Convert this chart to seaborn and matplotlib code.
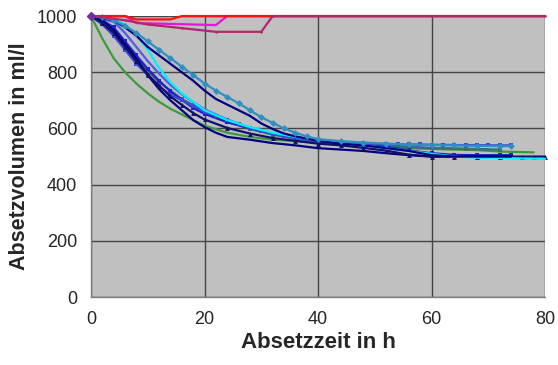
import numpy as np
import pandas as pd
import seaborn as sns
import matplotlib
matplotlib.use("Agg")
import matplotlib.pyplot as plt

# --- data (time in h, volume in ml/l) ---
t_green = [0, 2, 4, 6, 8, 10, 12, 14, 16, 18, 20, 24, 28, 32, 36, 40, 44, 48, 52, 56, 60, 64, 68, 72, 76, 78]
v_green = [1000, 920, 850, 800, 760, 725, 695, 670, 650, 630, 610, 585, 570, 560, 555, 550, 545, 540, 535, 530, 527, 525, 523, 518, 516, 515]

t_navy1 = [0, 2, 4, 6, 8, 10, 12, 14, 16, 18, 20, 22, 24, 28, 32, 36, 40, 44, 48, 52, 56, 60, 64, 68, 72, 74]
v_navy1 = [1000, 985, 950, 900, 850, 790, 740, 700, 665, 630, 605, 585, 570, 560, 548, 540, 530, 525, 520, 512, 505, 500, 500, 500, 500, 500]

t_cyan = [0, 4, 6, 8, 10, 12, 14, 16, 18, 20, 24, 28, 32, 36, 40, 44, 48, 52, 56, 60, 64, 68, 72, 76, 80]
v_cyan = [1000, 990, 970, 935, 880, 815, 765, 725, 695, 665, 630, 605, 585, 570, 558, 548, 540, 530, 520, 510, 500, 496, 495, 493, 492]

t_teal = [0, 2, 4, 6, 8, 10, 12, 14, 16, 18, 20, 22, 24, 26, 28, 30, 32, 34, 36, 38, 40, 44, 48, 52, 56, 60, 64, 68, 72, 74]
v_teal = [1000, 995, 985, 965, 940, 910, 880, 850, 820, 790, 760, 735, 712, 690, 665, 640, 620, 600, 585, 572, 562, 555, 550, 546, 543, 541, 540, 538, 537, 537]

t_navy2 = [0, 4, 6, 8, 10, 12, 14, 16, 18, 20, 22, 24, 26, 28, 30, 32, 34, 36, 40, 44, 48, 52, 56, 60, 64, 68, 72, 74]
v_navy2 = [1000, 985, 960, 930, 890, 860, 830, 800, 770, 735, 705, 685, 665, 645, 618, 598, 582, 572, 556, 546, 540, 530, 520, 505, 500, 500, 500, 500]

t_blue = [0, 2, 4, 6, 8, 10, 12, 14, 16, 18, 20, 22, 24, 26, 28, 30, 32, 34, 36, 38, 40, 42, 44, 46, 48, 50,
          52, 54, 56, 58, 60, 62, 64, 66, 68, 70, 72, 74]
v_blue = [1000, 970, 930, 880, 830, 790, 750, 720, 700, 680, 660, 645, 630, 615, 602, 592, 582, 573, 566, 560, 556, 553, 551, 549, 547, 546,
          545, 544, 543, 543, 542, 542, 541, 541, 541, 540, 540, 540]

t_royal = [0, 4, 6, 8, 10, 12, 14, 16, 18, 20, 24, 28, 32, 36, 40, 50, 60, 70]
v_royal = [1000, 980, 940, 890, 840, 795, 755, 722, 694, 668, 632, 603, 582, 567, 556, 541, 531, 526]

t_slate = [0, 2, 4, 6, 8, 10, 12, 14, 16, 18, 20, 24, 28, 32, 36, 40, 44, 48, 52, 56, 60, 66, 72]
v_slate = [1000, 985, 950, 900, 850, 805, 765, 735, 705, 683, 662, 625, 598, 578, 563, 552, 546, 541, 537, 533, 530, 527, 525]

t_navy3 = [0, 2, 4, 6, 8, 10, 12, 14, 16, 18, 20, 24, 28, 32, 36, 40, 44, 48, 52, 56, 60, 64, 68, 72, 76, 78, 80]
v_navy3 = [1000, 975, 940, 890, 840, 792, 752, 714, 684, 655, 632, 602, 582, 566, 556, 546, 540, 531, 521, 507, 500, 500, 500, 500, 500, 500, 500]

t_mblue = [0, 2, 4, 6, 8, 10, 12, 14, 16, 18, 20, 24, 28, 32, 36, 40, 44, 48, 52, 56, 60, 64, 68, 72, 74]
v_mblue = [1000, 985, 960, 910, 860, 812, 770, 732, 702, 673, 652, 622, 601, 582, 567, 556, 547, 541, 535, 522, 512, 506, 505, 505, 505]

t_red = [0, 6, 8, 14, 16, 80]
v_red = [1000, 1000, 988, 988, 1000, 1000]

t_magenta = [0, 6, 8, 22, 24, 80]
v_magenta = [1000, 1000, 975, 968, 1000, 1000]

t_maroon = [0, 2, 6, 10, 16, 22, 30, 32, 80]
v_maroon = [1000, 996, 985, 970, 957, 944, 944, 1000, 1000]

series = [
    (t_green, v_green, "#3c9a3c", None),
    (t_royal, v_royal, "#4a5ee8", None),
    (t_slate, v_slate, "#3a7070", "s"),
    (t_mblue, v_mblue, "#2020c8", "s"),
    (t_blue, v_blue, "#3a4ad8", "s"),
    (t_navy1, v_navy1, "#000080", None),
    (t_navy3, v_navy3, "#10106a", "^"),
    (t_cyan, v_cyan, "#00f0ff", None),
    (t_navy2, v_navy2, "#000080", None),
    (t_teal, v_teal, "#2f8fc0", "D"),
    (t_magenta, v_magenta, "#f010d8", None),
    (t_red, v_red, "#ff1010", None),
    (t_maroon, v_maroon, "#b02868", "."),
]

sns.set_style("white")
plt.rcParams["font.family"] = ["Liberation Sans", "DejaVu Sans"]

fig = plt.figure(figsize=(5.58, 3.65), dpi=100)
ax = fig.add_axes([0.163, 0.186, 0.814, 0.770])
ax.set_facecolor("#c0c0c0")

for t, v, c, m in series:
    df = pd.DataFrame({"t": t, "v": v})
    sns.lineplot(data=df, x="t", y="v", color=c, lw=1.6, ax=ax,
                 marker=m if m else None, markersize=3.5, markeredgewidth=0,
                 clip_on=False, zorder=3)

ax.plot([0], [1000], marker="D", color="#7030a0", markersize=4, clip_on=False, zorder=4)

ax.set_xlim(0, 80)
ax.set_ylim(0, 1000)
ax.set_xticks([0, 20, 40, 60, 80])
ax.set_yticks([0, 200, 400, 600, 800, 1000])
ax.grid(True, color="#454545", lw=1.0)
ax.set_axisbelow(True)
for s in ["top", "right"]:
    ax.spines[s].set_visible(False)
for s in ["left", "bottom"]:
    ax.spines[s].set_color("#808080")
    ax.spines[s].set_linewidth(1.0)
ax.tick_params(axis="both", direction="out", length=5, width=1, color="#808080",
               labelsize=13, pad=5)
ax.set_xlabel("Absetzzeit in h", fontsize=16, fontweight="bold", labelpad=3)
ax.set_ylabel("Absetzvolumen in ml/l", fontsize=15.5, fontweight="bold", labelpad=5)

fig.savefig("out.png", dpi=100)
